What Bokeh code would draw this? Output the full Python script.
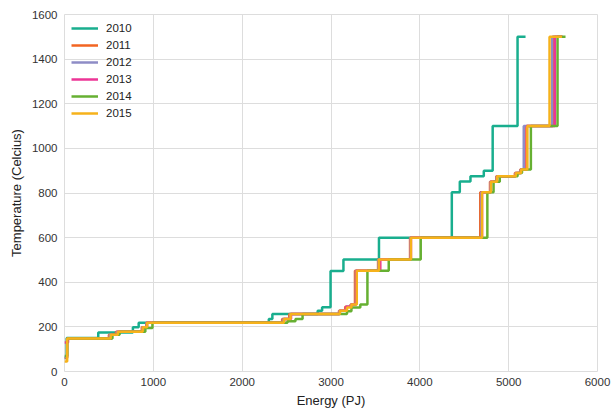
from bokeh.plotting import figure
from bokeh.models import Range1d, FixedTicker, Legend, LegendItem
from bokeh.embed import file_html
from bokeh.resources import INLINE

years = ["2010", "2011", "2012", "2013", "2014", "2015"]
colors = ["#19ae8e", "#f26522", "#8e8cc6", "#ec3596", "#66b032", "#f6b21b"]

e2010 = [0, 25, 380, 770, 835, 2300, 2340, 2850, 2900, 2995, 3140, 3540, 4360, 4450, 4570, 4720, 4820, 5100, 5190]
t2010 = [60, 150, 175, 198, 218, 235, 258, 272, 288, 450, 502, 600, 803, 852, 875, 900, 1100, 1500, 1500]

e2011 = [0, 30, 500, 580, 870, 920, 2450, 2530, 3090, 3160, 3220, 3270, 3530, 3890, 4680, 4790, 4860, 5070, 5130, 5200, 5500, 5600]
t2011 = [60, 148, 165, 178, 198, 218, 235, 258, 272, 290, 300, 452, 502, 600, 803, 850, 875, 890, 905, 1100, 1500, 1500]

e2012 = [0, 30, 510, 590, 875, 925, 2460, 2540, 3095, 3170, 3225, 3280, 3535, 3895, 4690, 4795, 4865, 5075, 5135, 5170, 5490, 5600]
t2012 = [65, 148, 165, 178, 198, 218, 235, 258, 272, 290, 300, 452, 502, 600, 803, 850, 875, 890, 905, 1100, 1500, 1500]

e2013 = [0, 40, 530, 600, 880, 930, 2470, 2550, 3100, 3170, 3230, 3285, 3555, 3900, 4700, 4800, 4870, 5080, 5140, 5205, 5520, 5610]
t2013 = [130, 148, 165, 178, 198, 218, 235, 258, 272, 290, 300, 452, 502, 600, 803, 850, 875, 890, 905, 1100, 1500, 1500]

e2014 = [0, 30, 540, 620, 910, 990, 2510, 2600, 2680, 3180, 3230, 3330, 3410, 3650, 4010, 4760, 4830, 4900, 5100, 5150, 5250, 5550, 5640]
t2014 = [70, 148, 165, 178, 195, 218, 225, 235, 258, 270, 287, 300, 452, 502, 600, 803, 850, 875, 890, 905, 1100, 1500, 1500]

e2015 = [0, 30, 520, 600, 880, 930, 2470, 2545, 3100, 3180, 3230, 3290, 3540, 3900, 4700, 4800, 4870, 5080, 5140, 5210, 5460, 5600]
t2015 = [45, 148, 165, 178, 198, 218, 235, 258, 272, 287, 300, 452, 502, 600, 803, 850, 875, 890, 905, 1100, 1500, 1500]

series = [(e2010, t2010), (e2011, t2011), (e2012, t2012), (e2013, t2013), (e2014, t2014), (e2015, t2015)]

x_ticks = [0, 1000, 2000, 3000, 4000, 5000, 6000]
y_ticks = [0, 200, 400, 600, 800, 1000, 1200, 1400, 1600]

p = figure(width=612, height=411, output_backend="svg", toolbar_location=None,
           x_range=Range1d(0, 6000), y_range=Range1d(0, 1600),
           min_border_left=64, min_border_right=15, min_border_top=14, min_border_bottom=40)

items = []
for (e, t), yr, c in zip(series, years, colors):
    r = p.step(e, t, mode="after", line_color=c, line_width=2.5)
    items.append(LegendItem(label=yr, renderers=[r]))

p.xaxis.ticker = FixedTicker(ticks=x_ticks)
p.yaxis.ticker = FixedTicker(ticks=y_ticks)
for ax in (p.xaxis[0], p.yaxis[0]):
    ax.axis_line_color = None
    ax.major_tick_line_color = None
    ax.minor_tick_line_color = None
    ax.major_tick_out = 0
    ax.major_tick_in = 0
    ax.minor_tick_out = 0
    ax.minor_tick_in = 0
    ax.major_label_text_font = "Liberation Sans"
    ax.major_label_text_font_size = "11.5px"
    ax.major_label_text_color = "#333333"
    ax.axis_label_text_font = "Liberation Sans"
    ax.axis_label_text_font_size = "13px"
    ax.axis_label_text_font_style = "normal"
    ax.axis_label_text_color = "#222222"
p.xaxis.axis_label = "Energy (PJ)"
p.yaxis.axis_label = "Temperature (Celcius)"
p.xaxis.major_label_standoff = 6
p.yaxis.major_label_standoff = 7
p.xaxis.axis_label_standoff = 4
p.yaxis.axis_label_standoff = 5

p.xgrid.grid_line_color = "#dddddd"
p.ygrid.grid_line_color = "#dddddd"
p.outline_line_color = "#dddddd"
p.background_fill_color = "white"
p.border_fill_color = "white"

legend = Legend(items=items, location="top_left", border_line_color=None,
                background_fill_alpha=0, label_text_font="Liberation Sans",
                label_text_font_size="11.5px", label_text_color="#222222",
                glyph_width=27, label_height=14, glyph_height=14, spacing=3,
                label_standoff=8, padding=4, margin=7)
p.add_layout(legend)

open("out.html", "w").write(file_html(p, INLINE))
